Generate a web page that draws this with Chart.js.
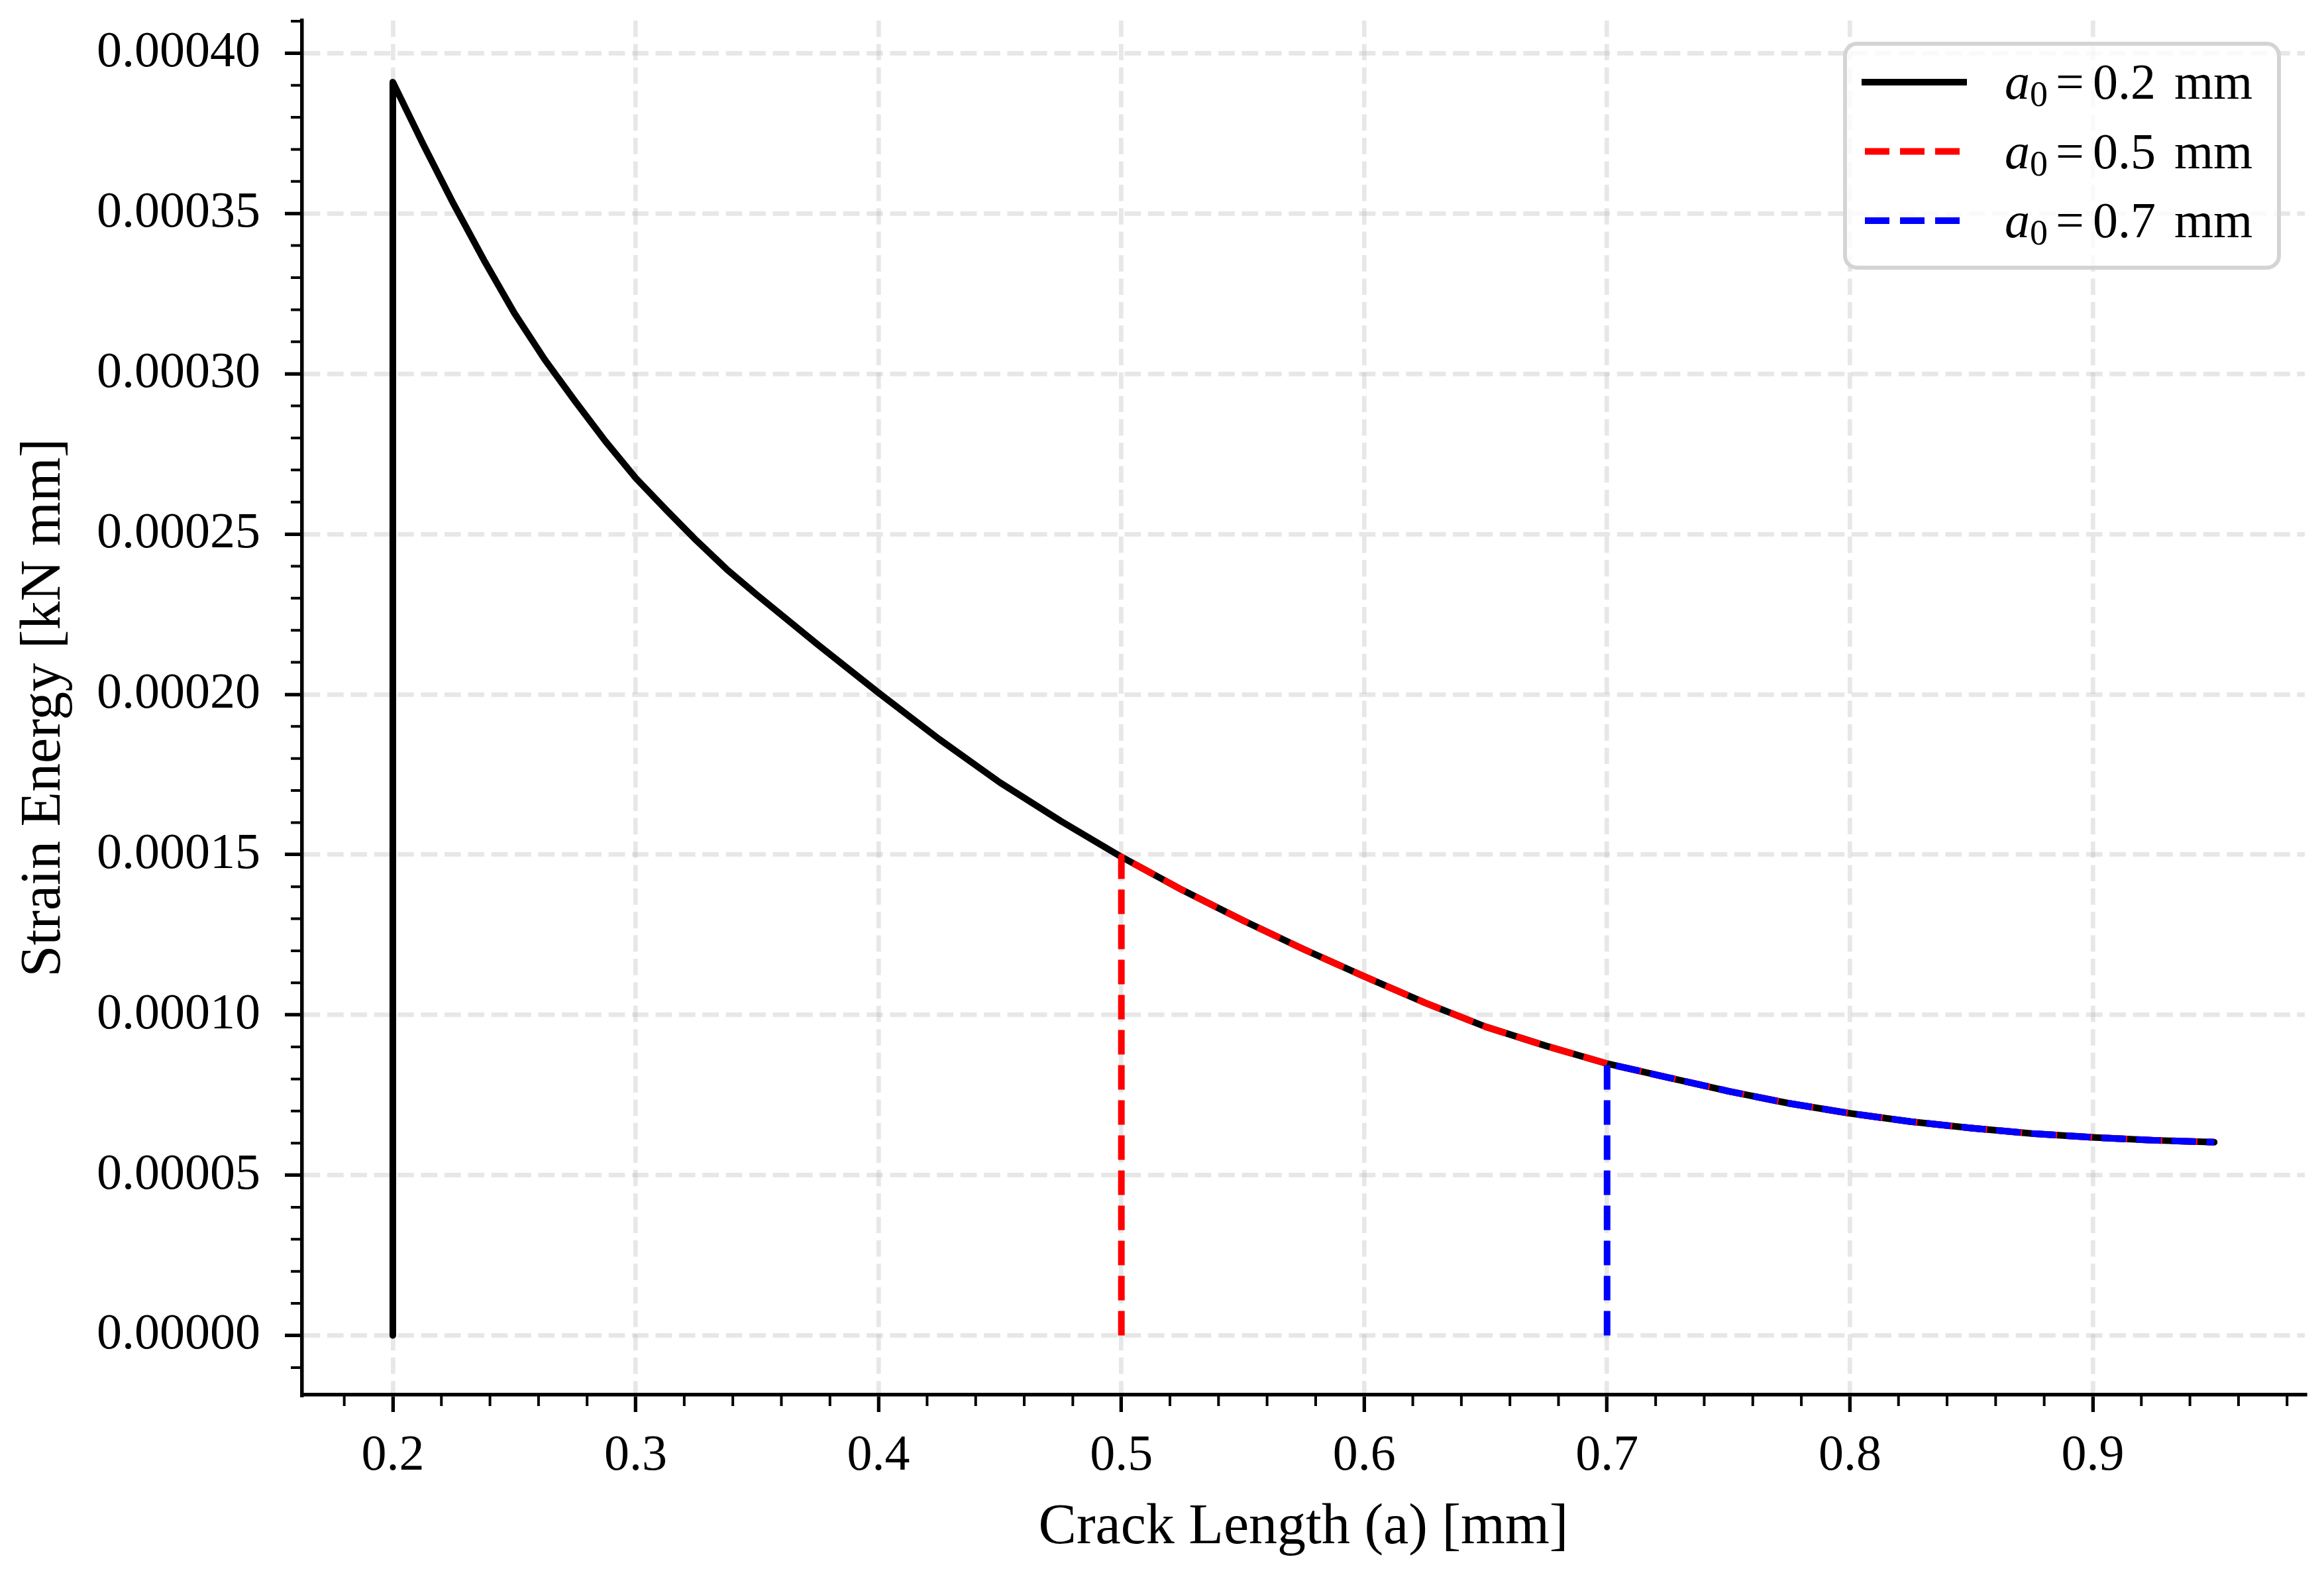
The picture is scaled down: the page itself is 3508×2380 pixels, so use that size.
<!DOCTYPE html>
<html>
<head>
<meta charset="utf-8">
<script src="https://cdn.jsdelivr.net/npm/chart.js@4.4.1/dist/chart.umd.min.js"></script>
<style>
  html, body { margin: 0; padding: 0; background: #fff; }
  canvas { display: block; }
</style>
</head>
<body>
<canvas id="energyChart" width="3508" height="2380"></canvas>
<script>
// crack length [mm] and strain energy [kN mm]
const crackLength = [0.2, 0.2125, 0.225, 0.2375, 0.25, 0.2625, 0.275, 0.2875, 0.3, 0.3125, 0.325, 0.3375,
  0.35, 0.375, 0.4, 0.425, 0.45, 0.475,
  0.5, 0.525, 0.55, 0.575, 0.6, 0.625, 0.65, 0.675, 0.7, 0.725, 0.75, 0.775,
  0.8, 0.825, 0.85, 0.875, 0.9, 0.925, 0.95];
const strainEnergy = [0.000391, 0.0003716, 0.000353, 0.0003355, 0.000319, 0.0003045, 0.0002915, 0.000279,
  0.0002675, 0.0002576, 0.000248, 0.000239,
  0.000231, 0.0002155, 0.0002005, 0.000186, 0.0001725, 0.0001605,
  0.0001493, 0.000139, 0.0001295, 0.0001205, 0.000112, 0.0001038, 0.0000963, 0.0000903,
  0.0000848, 0.0000805, 0.0000762, 0.0000724,
  0.0000693, 0.0000667, 0.0000647, 0.000063, 0.0000618, 0.0000609, 0.0000603];

// initial crack lengths, one curve each
const a0List = [0.2, 0.5, 0.7];
const lineColors = ['#000000', '#ff0000', '#0000ff'];
const lineDashes = [[], [37, 16], [37, 16]];

// axis ticks
const xTicks = [0.2, 0.3, 0.4, 0.5, 0.6, 0.7, 0.8, 0.9];
const yTicks = [0, 0.00005, 0.0001, 0.00015, 0.0002, 0.00025, 0.0003, 0.00035, 0.0004];
const xMin = 0.16264, xMax = 0.9873;
const yMin = -0.0000185, yMax = 0.0004102;

// minor ticks every 0.02 / 0.00001
const xMinor = [];
for (let i = 9; i <= 49; i++) { if (i % 5 !== 0) xMinor.push(i * 0.02); }
const yMinor = [];
for (let i = -1; i <= 41; i++) { if (i % 5 !== 0) yMinor.push(i * 0.00001); }

const FONT = '"Liberation Serif", "Times New Roman", serif';

const datasets = a0List.map((a0, k) => {
  const pts = [{ x: a0, y: 0 }];
  crackLength.forEach((a, i) => {
    if (a >= a0 - 1e-9) pts.push({ x: a, y: strainEnergy[i] });
  });
  return {
    label: 'a\u2080=' + a0 + ' mm',
    data: pts,
    borderColor: lineColors[k],
    borderWidth: 10,
    borderDash: lineDashes[k],
    borderJoinStyle: 'round',
    borderCapStyle: k === 0 ? 'round' : 'butt',
    pointRadius: 0,
    fill: false,
    tension: 0,
    order: a0List.length - k
  };
});

// short minor ticks, positioned through the chart scales
const minorTickPlugin = {
  id: 'minorTicks',
  afterDraw(chart) {
    const { ctx, chartArea, scales } = chart;
    ctx.save();
    ctx.strokeStyle = '#000';
    ctx.lineWidth = 4;
    ctx.beginPath();
    xMinor.forEach(v => {
      const px = scales.x.getPixelForValue(v);
      ctx.moveTo(px, chartArea.bottom);
      ctx.lineTo(px, chartArea.bottom + 17);
    });
    yMinor.forEach(v => {
      const py = scales.y.getPixelForValue(v);
      ctx.moveTo(chartArea.left, py);
      ctx.lineTo(chartArea.left - 17, py);
    });
    ctx.stroke();
    ctx.restore();
  }
};

// framed legend with italic a and subscript 0
const boxLegendPlugin = {
  id: 'boxLegend',
  afterDraw(chart) {
    const { ctx, chartArea } = chart;
    const w = 655, h = 338;
    const left = chartArea.right - 39 - w, top = chartArea.top + 35;
    ctx.save();
    ctx.beginPath();
    ctx.roundRect(left, top, w, h, 18);
    ctx.fillStyle = 'rgba(255,255,255,0.8)';
    ctx.fill();
    ctx.lineWidth = 6;
    ctx.strokeStyle = '#d4d4d4';
    ctx.stroke();

    chart.data.datasets.forEach((ds, i) => {
      const cy = top + 58 + i * 104.5;
      ctx.beginPath();
      ctx.strokeStyle = ds.borderColor;
      ctx.lineWidth = 10;
      ctx.setLineDash(ds.borderDash);
      ctx.lineCap = ds.borderDash.length ? 'butt' : 'square';
      ctx.moveTo(left + 30, cy);
      ctx.lineTo(left + 179, cy);
      ctx.stroke();
      ctx.setLineDash([]);

      const base = cy + 25;
      ctx.fillStyle = '#000';
      ctx.textBaseline = 'alphabetic';
      ctx.textAlign = 'left';
      ctx.font = 'italic 76px ' + FONT;
      ctx.fillText('a', left + 241, base);
      ctx.font = '54px ' + FONT;
      ctx.fillText('0', left + 279, base + 11);
      ctx.font = '76px ' + FONT;
      ctx.fillText('=', left + 318, base);
      ctx.fillText(String(a0List[i]), left + 374, base);
      ctx.fillText('mm', left + 497, base);
    });
    ctx.restore();
  }
};

const tickFont = { family: FONT, size: 76 };
const titleFont = { family: FONT, size: 86 };
const gridOpts = {
  color: 'rgba(176,176,176,0.3)',
  lineWidth: 6.7,
  drawTicks: true,
  tickLength: 26,
  tickWidth: 5.3,
  tickColor: '#000'
};
const borderOpts = { display: true, color: '#000', width: 5.5, dash: [24.7, 10.7] };

const ctx = document.getElementById('energyChart').getContext('2d');
const energyChart = new Chart(ctx, {
  type: 'line',
  data: { datasets: datasets },
  options: {
    responsive: false,
    animation: false,
    devicePixelRatio: 1,
    layout: { padding: { top: 31, right: 29, left: 0, bottom: 0 } },
    plugins: {
      legend: { display: false },
      tooltip: { enabled: false }
    },
    scales: {
      x: {
        type: 'linear',
        min: xMin,
        max: xMax,
        afterBuildTicks: s => { s.ticks = xTicks.map(v => ({ value: v })); },
        afterFit: s => { s.height = 275; },
        grid: gridOpts,
        border: borderOpts,
        ticks: {
          callback: v => v.toFixed(1),
          font: tickFont,
          color: '#000',
          padding: 21,
          maxRotation: 0,
          autoSkip: false
        },
        title: {
          display: true,
          text: 'Crack Length (a) [mm]',
          font: titleFont,
          color: '#000',
          padding: { top: 0, bottom: 22 }
        }
      },
      y: {
        type: 'linear',
        min: yMin,
        max: yMax,
        afterBuildTicks: s => { s.ticks = yTicks.map(v => ({ value: v })); },
        afterFit: s => { s.width = 456; s.paddingTop = 0; s.paddingBottom = 0; },
        grid: gridOpts,
        border: borderOpts,
        ticks: {
          callback: v => v.toFixed(5),
          font: tickFont,
          color: '#000',
          padding: 37,
          autoSkip: false
        },
        title: {
          display: true,
          text: 'Strain Energy [kN mm]',
          font: titleFont,
          color: '#000',
          padding: { top: 16, bottom: 0 }
        }
      }
    }
  },
  plugins: [minorTickPlugin, boxLegendPlugin]
});
</script>
</body>
</html>
